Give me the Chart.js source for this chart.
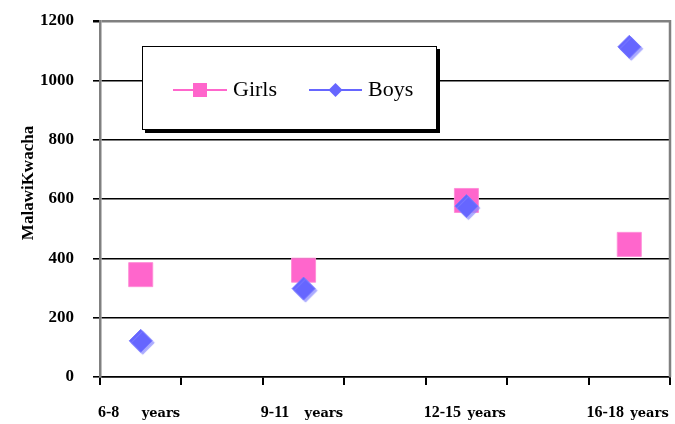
<!DOCTYPE html>
<html>
<head>
<meta charset="utf-8">
<script src="https://cdn.jsdelivr.net/npm/chart.js@4/dist/chart.umd.min.js"></script>
<style>
  html, body { margin: 0; padding: 0; background: #fff; }
  #c { display: block; }
</style>
</head>
<body>
<canvas id="c" width="675" height="424"></canvas>
<script>
// Average amount per age group, in Malawi Kwacha
const ageGroups = ['6-8', '9-11', '12-15', '16-18'];
const groupUnit = 'years';
const girls = [345, 360, 595, 447];
const boys = [122, 298, 576, 1113];
const yTicks = [0, 200, 400, 600, 800, 1000, 1200];
const yTitle = 'MalawiKwacha';
const seriesNames = ['Girls', 'Boys'];

const PINK = '#FF66CC';
const BLUE = '#6666FF';
const SERIF = '"Liberation Serif", "Times New Roman", serif';

// each age group takes two units of the x axis; the mark sits half a unit in
const slot = i => i * 2 + 0.5;
const toPoints = vals => vals.map((v, i) => ({ x: slot(i), y: v }));

const extras = {
  id: 'extras',
  beforeDatasetDraw(chart, args) {
    if (args.index === 1) {
      const ctx = chart.ctx;
      ctx.shadowColor = 'rgba(140,140,255,0.75)';
      ctx.shadowOffsetX = 2;
      ctx.shadowOffsetY = 2;
      ctx.shadowBlur = 1;
    }
  },
  afterDatasetDraw(chart) {
    const ctx = chart.ctx;
    ctx.shadowColor = 'rgba(0,0,0,0)';
    ctx.shadowOffsetX = 0;
    ctx.shadowOffsetY = 0;
    ctx.shadowBlur = 0;
  },
  afterDraw(chart) {
    const ctx = chart.ctx;
    const area = chart.chartArea;
    const xs = chart.scales.x;
    ctx.save();

    // right frame edge
    ctx.strokeStyle = '#808080';
    ctx.lineWidth = 2.5;
    ctx.beginPath();
    ctx.moveTo(area.right, area.top - 1);
    ctx.lineTo(area.right, area.bottom);
    ctx.stroke();

    // age-group labels under the axis
    ctx.fillStyle = '#000';
    ctx.textBaseline = 'alphabetic';
    ctx.textAlign = 'left';
    ageGroups.forEach((g, i) => {
      ctx.font = 'bold 16px ' + SERIF;
      ctx.fillText(g, xs.getPixelForValue(i * 2) - 2, 417);
      ctx.font = 'bold 13px "DejaVu Serif", serif';
      ctx.fillText(groupUnit, xs.getPixelForValue(i * 2 + 0.5) + 1, 417);
    });

    // y axis title
    ctx.save();
    ctx.translate(33, (area.top + area.bottom) / 2 - 16);
    ctx.rotate(-Math.PI / 2);
    ctx.textAlign = 'center';
    ctx.font = 'bold 17px ' + SERIF;
    ctx.fillText(yTitle, 0, 0);
    ctx.restore();

    // legend box with drop shadow
    const bx = 142, by = 46, bw = 295, bh = 84;
    ctx.fillStyle = '#000';
    ctx.fillRect(bx + 3, by + 3, bw, bh);
    ctx.fillStyle = '#fff';
    ctx.fillRect(bx, by, bw, bh);
    ctx.strokeStyle = '#000';
    ctx.lineWidth = 1;
    ctx.strokeRect(bx + 0.5, by + 0.5, bw - 1, bh - 1);

    const ly = 90;
    // Girls entry
    ctx.strokeStyle = PINK;
    ctx.lineWidth = 2;
    ctx.beginPath();
    ctx.moveTo(173, ly);
    ctx.lineTo(227, ly);
    ctx.stroke();
    ctx.fillStyle = PINK;
    ctx.fillRect(193, ly - 7, 14, 14);
    // Boys entry
    ctx.strokeStyle = BLUE;
    ctx.beginPath();
    ctx.moveTo(309, ly);
    ctx.lineTo(362, ly);
    ctx.stroke();
    ctx.fillStyle = BLUE;
    ctx.beginPath();
    const dx = 335.5, r = 7;
    ctx.moveTo(dx, ly - r);
    ctx.lineTo(dx + r, ly);
    ctx.lineTo(dx, ly + r);
    ctx.lineTo(dx - r, ly);
    ctx.closePath();
    ctx.fill();

    ctx.fillStyle = '#000';
    ctx.font = '22px ' + SERIF;
    ctx.textAlign = 'left';
    ctx.fillText(seriesNames[0], 233, 96);
    ctx.fillText(seriesNames[1], 368, 96);

    ctx.restore();
  }
};

new Chart(document.getElementById('c'), {
  type: 'scatter',
  data: {
    datasets: [
      {
        label: seriesNames[0],
        data: toPoints(girls),
        order: 1,
        pointStyle: 'rect',
        pointRadius: 17,
        backgroundColor: PINK,
        borderColor: 'rgba(255,140,215,0.9)',
        borderWidth: 1
      },
      {
        label: seriesNames[1],
        data: toPoints(boys),
        order: 0,
        pointStyle: 'rectRot',
        pointRadius: 11.5,
        backgroundColor: BLUE,
        borderColor: 'rgba(120,120,255,0.9)',
        borderWidth: 1
      }
    ]
  },
  options: {
    responsive: false,
    animation: false,
    devicePixelRatio: 1,
    layout: { autoPadding: false, padding: { top: 21, right: 5, left: 0, bottom: 0 } },
    plugins: {
      legend: { display: false },
      tooltip: { enabled: false }
    },
    scales: {
      x: {
        type: 'linear',
        min: 0,
        max: 7,
        ticks: { display: false, stepSize: 1 },
        grid: {
          drawOnChartArea: false,
          drawTicks: true,
          tickLength: 8,
          color: '#000',
          lineWidth: 2
        },
        border: { color: '#000', width: 1.5 },
        afterFit: s => {
          s.height = 47;
          s.paddingLeft = 0;
          s.paddingRight = 0;
        }
      },
      y: {
        min: 0,
        max: 1200,
        afterBuildTicks: s => { s.ticks = yTicks.map(v => ({ value: v })); },
        ticks: {
          color: '#000',
          padding: 19,
          font: { family: SERIF, size: 17, weight: 'bold' },
          callback: v => String(v)
        },
        grid: {
          color: c => (c.tick && c.tick.value === 1200 ? '#808080' : '#000'),
          lineWidth: c => (c.tick && c.tick.value === 1200 ? 2.5 : 1.6),
          tickColor: '#000',
          tickLength: 7
        },
        border: { color: '#808080', width: 2.5 },
        afterFit: s => {
          s.width = 100;
          s.paddingTop = 0;
          s.paddingBottom = 0;
        }
      }
    }
  },
  plugins: [extras]
});
</script>
</body>
</html>
